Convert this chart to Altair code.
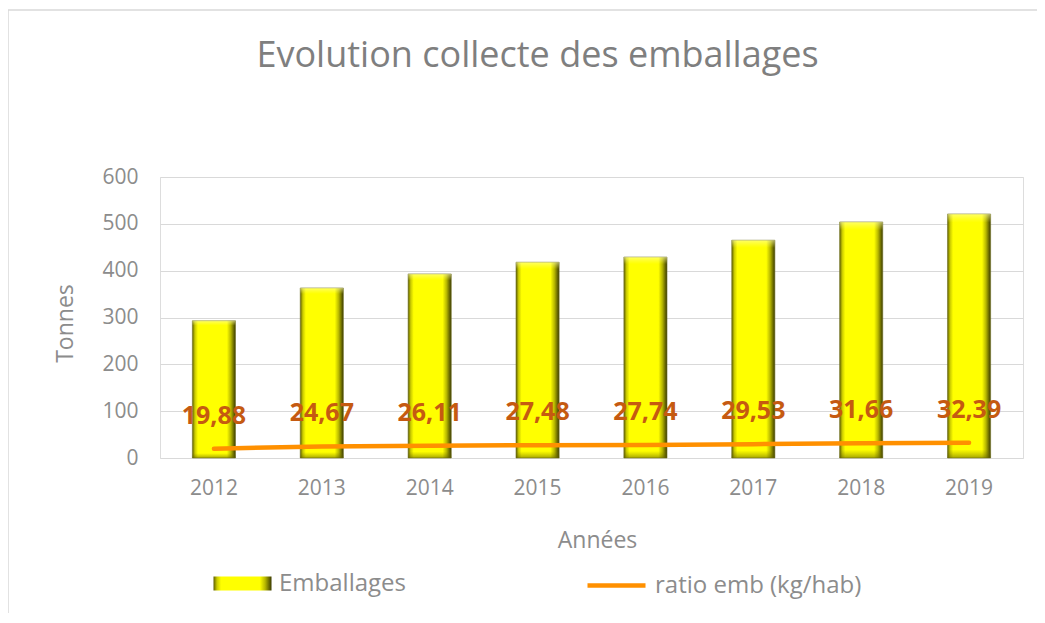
import altair as alt
import pandas as pd

years = ["2012", "2013", "2014", "2015", "2016", "2017", "2018", "2019"]
emballages = [293, 363, 393, 418, 429, 465, 504, 521]
ratio = [19.88, 24.67, 26.11, 27.48, 27.74, 29.53, 31.66, 32.39]
y_ticks = [0, 100, 200, 300, 400, 500, 600]
bar_series = "Emballages"
line_series = "ratio emb (kg/hab)"

df = pd.DataFrame({"annee": years, "emballages": emballages, "ratio": ratio})
df["s1"] = bar_series
df["s2"] = line_series

FONT = "Open Sans"
GRAY = "#8c8c8c"
W, H = 863, 281

x_enc = alt.X(
    "annee:N",
    sort=years,
    scale=alt.Scale(paddingInner=0.6, paddingOuter=0.3),
    axis=alt.Axis(
        title="Années", labelAngle=0, ticks=False, domain=False, grid=False,
        labelFont=FONT, labelFontSize=21, labelColor=GRAY, labelPadding=19,
        titleFont=FONT, titleFontSize=23, titleColor=GRAY, titleFontWeight="normal",
        titleX=437, titleY=82, titleBaseline="middle", titleAlign="center",
    ),
)
y_scale = alt.Scale(domain=[0, 600], nice=False)

gradient = alt.LinearGradient(
    gradient="linear", x1=0, x2=1, y1=0, y2=0,
    stops=[
        alt.GradientStop(offset=0.0, color="#5c5c00"),
        alt.GradientStop(offset=0.06, color="#caca00"),
        alt.GradientStop(offset=0.13, color="#ffff00"),
        alt.GradientStop(offset=0.80, color="#ffff00"),
        alt.GradientStop(offset=0.89, color="#b8b800"),
        alt.GradientStop(offset=1.0, color="#3a3a00"),
    ],
)

bevel = alt.LinearGradient(
    gradient="linear", x1=0, x2=0, y1=0, y2=1,
    stops=[
        alt.GradientStop(offset=0.0, color="rgba(255,255,190,0.55)"),
        alt.GradientStop(offset=0.035, color="rgba(255,255,120,0.0)"),
        alt.GradientStop(offset=0.965, color="rgba(120,120,0,0.0)"),
        alt.GradientStop(offset=1.0, color="rgba(90,90,0,0.55)"),
    ],
)

bars = alt.Chart(df).mark_bar(fill=gradient, stroke="#77772a", strokeWidth=0.6).encode(
    x=x_enc,
    y=alt.Y(
        "emballages:Q", scale=y_scale,
        axis=alt.Axis(
            title="Tonnes", values=y_ticks, ticks=False, domain=False,
            grid=True, gridColor="#d9d9d9", gridWidth=1.2,
            labelFont=FONT, labelFontSize=21, labelColor=GRAY, labelPadding=22,
            titleFont=FONT, titleFontSize=23, titleColor=GRAY, titleFontWeight="normal",
            titleX=-95, titleY=146, titleAlign="center", titleBaseline="middle",
        ),
    ),
    opacity=alt.Opacity(
        "s1:N", scale=alt.Scale(range=[1]),
        legend=alt.Legend(
            title=None, orient="none", legendX=53, legendY=377, padding=0,
            symbolType="M-1,-0.24H1V0.24H-1Z", symbolSize=3364,
            symbolFillColor="#e6e600", symbolStrokeColor="#6b6b10", symbolStrokeWidth=1,
            labelFont=FONT, labelFontSize=24, labelColor=GRAY, labelOffset=7,
            labelLimit=400,
        ),
    ),
)

bars_bevel = alt.Chart(df).mark_bar(fill=bevel).encode(
    x=x_enc,
    y=alt.Y("emballages:Q", scale=y_scale),
)

line = alt.Chart(df).mark_line(strokeWidth=4.5, strokeCap="round").encode(
    x=x_enc,
    y=alt.Y("ratio:Q", scale=y_scale),
    stroke=alt.Stroke(
        "s2:N", scale=alt.Scale(range=["#ff9000"]),
        legend=alt.Legend(
            title=None, orient="none", legendX=425, legendY=377, padding=0,
            symbolType="stroke", symbolSize=3364, symbolStrokeWidth=4.5,
            labelFont=FONT, labelFontSize=24, labelColor=GRAY, labelOffset=7,
            labelLimit=400,
        ),
    ),
)

labels = alt.Chart(df).transform_calculate(
    lab="replace(format(datum.ratio, '.2f'), '.', ',')"
).mark_text(
    dy=-33, font=FONT, fontSize=25, fontWeight="bold", color="#c55a11", baseline="middle"
).encode(
    x=x_enc,
    y=alt.Y("ratio:Q", scale=y_scale),
    text="lab:N",
)

frame = alt.Chart(pd.DataFrame({"k": [0]})).mark_rect(
    filled=False, stroke="#d9d9d9", strokeWidth=1.5
).encode(
    x=alt.value(-152), x2=alt.value(W + 40), y=alt.value(-167), y2=alt.value(H + 200)
)

chart = alt.layer(frame, bars, bars_bevel, line, labels).resolve_scale(y="shared").properties(
    width=W,
    height=H,
    padding={"left": 152, "top": 169, "right": 14, "bottom": 155},
    autosize=alt.AutoSizeParams(type="none"),
    title=alt.TitleParams(
        "Evolution collecte des emballages", font=FONT, fontSize=36,
        fontWeight="normal", color="#7f7f7f", anchor="middle", dx=-54, offset=-66,
    ),
).configure_view(stroke=None).configure(background="white")

chart.save("out.html", embed_options={"renderer": "svg", "actions": False})
